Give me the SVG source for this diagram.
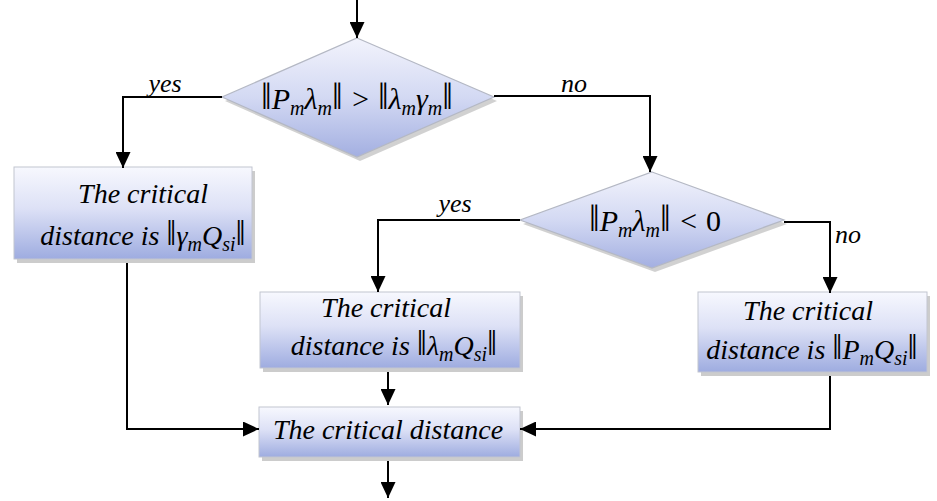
<svg xmlns="http://www.w3.org/2000/svg" width="937" height="501" viewBox="0 0 937 501">
<rect x="0" y="0" width="937" height="501" fill="#ffffff"/>
<defs>
<linearGradient id="gb" x1="0" y1="0" x2="0" y2="1">
<stop offset="0" stop-color="#f7f8fe"/>
<stop offset="0.45" stop-color="#dde1f6"/>
<stop offset="1" stop-color="#9eace0"/>
</linearGradient>
<linearGradient id="gd" x1="0" y1="0" x2="0" y2="1">
<stop offset="0" stop-color="#f2f3fc"/>
<stop offset="0.5" stop-color="#d3d9f3"/>
<stop offset="1" stop-color="#a3afe1"/>
</linearGradient>
<marker id="ah" markerUnits="userSpaceOnUse" markerWidth="17" markerHeight="15" refX="16" refY="7.5" orient="auto">
<path d="M0,0 L16,7.5 L0,15 z" fill="#000"/>
</marker>
</defs>

<g id="decision1">
<polygon fill="#000" fill-opacity="0.18" points="360,42 497,101 360,161 225,101"/>
<polygon fill="url(#gd)" stroke="#b4b8c4" stroke-width="1.2" points="357,38 494,97 357,157 222,97"/>
<text font-family="Liberation Serif" font-size="30" font-style="italic" x="357" y="109" text-anchor="middle"><tspan font-style="normal" font-size="38">‖</tspan>P<tspan font-size="20" dy="6">m</tspan><tspan dy="-6">λ</tspan><tspan font-size="20" dy="6">m</tspan><tspan font-style="normal" font-size="38" dy="-6">‖</tspan> &gt; <tspan font-style="normal" font-size="38">‖</tspan>λ<tspan font-size="20" dy="6">m</tspan><tspan dy="-6">γ</tspan><tspan font-size="20" dy="6">m</tspan><tspan font-style="normal" font-size="38" dy="-6">‖</tspan></text>
</g>

<g id="decision2">
<polygon fill="#000" fill-opacity="0.18" points="655,176 787,224 655,272 523,224"/>
<polygon fill="url(#gd)" stroke="#b4b8c4" stroke-width="1.2" points="652,172 784,220 652,268 520,220"/>
<text font-family="Liberation Serif" font-size="30" font-style="italic" x="655" y="231" text-anchor="middle"><tspan font-style="normal" font-size="38">‖</tspan>P<tspan font-size="20" dy="6">m</tspan><tspan dy="-6">λ</tspan><tspan font-size="20" dy="6">m</tspan><tspan font-style="normal" font-size="38" dy="-6">‖</tspan> &lt; <tspan font-style="normal">0</tspan></text>
</g>

<g id="box1">
<rect fill="#000" fill-opacity="0.2" x="17" y="171" width="238" height="92"/>
<rect fill="url(#gb)" stroke="#c2c5d0" stroke-width="1" x="14" y="167" width="238" height="92"/>
<text font-family="Liberation Serif" font-size="28" font-style="italic" x="143" y="203" text-anchor="middle">The critical</text>
<text font-family="Liberation Serif" font-size="28" font-style="italic" x="143" y="245" text-anchor="middle">distance is <tspan font-style="normal" font-size="36">‖</tspan>γ<tspan font-size="20" dy="6">m</tspan><tspan dy="-6">Q</tspan><tspan font-size="20" dy="6">si</tspan><tspan font-style="normal" font-size="36" dy="-6">‖</tspan></text>
</g>

<g id="box2">
<rect fill="#000" fill-opacity="0.2" x="263" y="296" width="260" height="76"/>
<rect fill="url(#gb)" stroke="#c2c5d0" stroke-width="1" x="260" y="292" width="260" height="76"/>
<text font-family="Liberation Serif" font-size="28" font-style="italic" x="386" y="317" text-anchor="middle">The critical</text>
<text font-family="Liberation Serif" font-size="28" font-style="italic" x="394" y="355" text-anchor="middle">distance is <tspan font-style="normal" font-size="36">‖</tspan>λ<tspan font-size="20" dy="6">m</tspan><tspan dy="-6">Q</tspan><tspan font-size="20" dy="6">si</tspan><tspan font-style="normal" font-size="36" dy="-6">‖</tspan></text>
</g>

<g id="box3">
<rect fill="#000" fill-opacity="0.2" x="701" y="296" width="229" height="80"/>
<rect fill="url(#gb)" stroke="#c2c5d0" stroke-width="1" x="698" y="292" width="229" height="80"/>
<text font-family="Liberation Serif" font-size="28" font-style="italic" x="808" y="320" text-anchor="middle">The critical</text>
<text font-family="Liberation Serif" font-size="28" font-style="italic" x="812" y="359" text-anchor="middle">distance is <tspan font-style="normal" font-size="36">‖</tspan>P<tspan font-size="20" dy="6">m</tspan><tspan dy="-6">Q</tspan><tspan font-size="20" dy="6">si</tspan><tspan font-style="normal" font-size="36" dy="-6">‖</tspan></text>
</g>

<g id="result">
<rect fill="#000" fill-opacity="0.2" x="262" y="411" width="261" height="50"/>
<rect fill="url(#gb)" stroke="#c2c5d0" stroke-width="1" x="259" y="407" width="261" height="50"/>
<text font-family="Liberation Serif" font-size="28" font-style="italic" x="388" y="439" text-anchor="middle">The critical distance</text>
</g>

<g id="connectors" fill="none" stroke="#000" stroke-width="2" marker-end="url(#ah)">
<path d="M357,0 L357,38"/>
<path d="M222,97 L123,97 L123,168"/>
<path d="M494,96 L650,96 L650,172"/>
<path d="M520,220 L378,220 L378,292"/>
<path d="M784,222 L830,222 L830,293"/>
<path d="M127,263 L127,429 L259,429"/>
<path d="M388,372 L388,405"/>
<path d="M830,376 L830,429 L520,429"/>
<path d="M388,461 L388,498"/>
</g>
<g id="labels">
<text font-family="Liberation Serif" font-size="26" font-style="italic" x="165" y="92" text-anchor="middle">yes</text>
<text font-family="Liberation Serif" font-size="26" font-style="italic" x="574" y="92" text-anchor="middle">no</text>
<text font-family="Liberation Serif" font-size="26" font-style="italic" x="455" y="212" text-anchor="middle">yes</text>
<text font-family="Liberation Serif" font-size="26" font-style="italic" x="835" y="243">no</text>
</g>
</svg>
